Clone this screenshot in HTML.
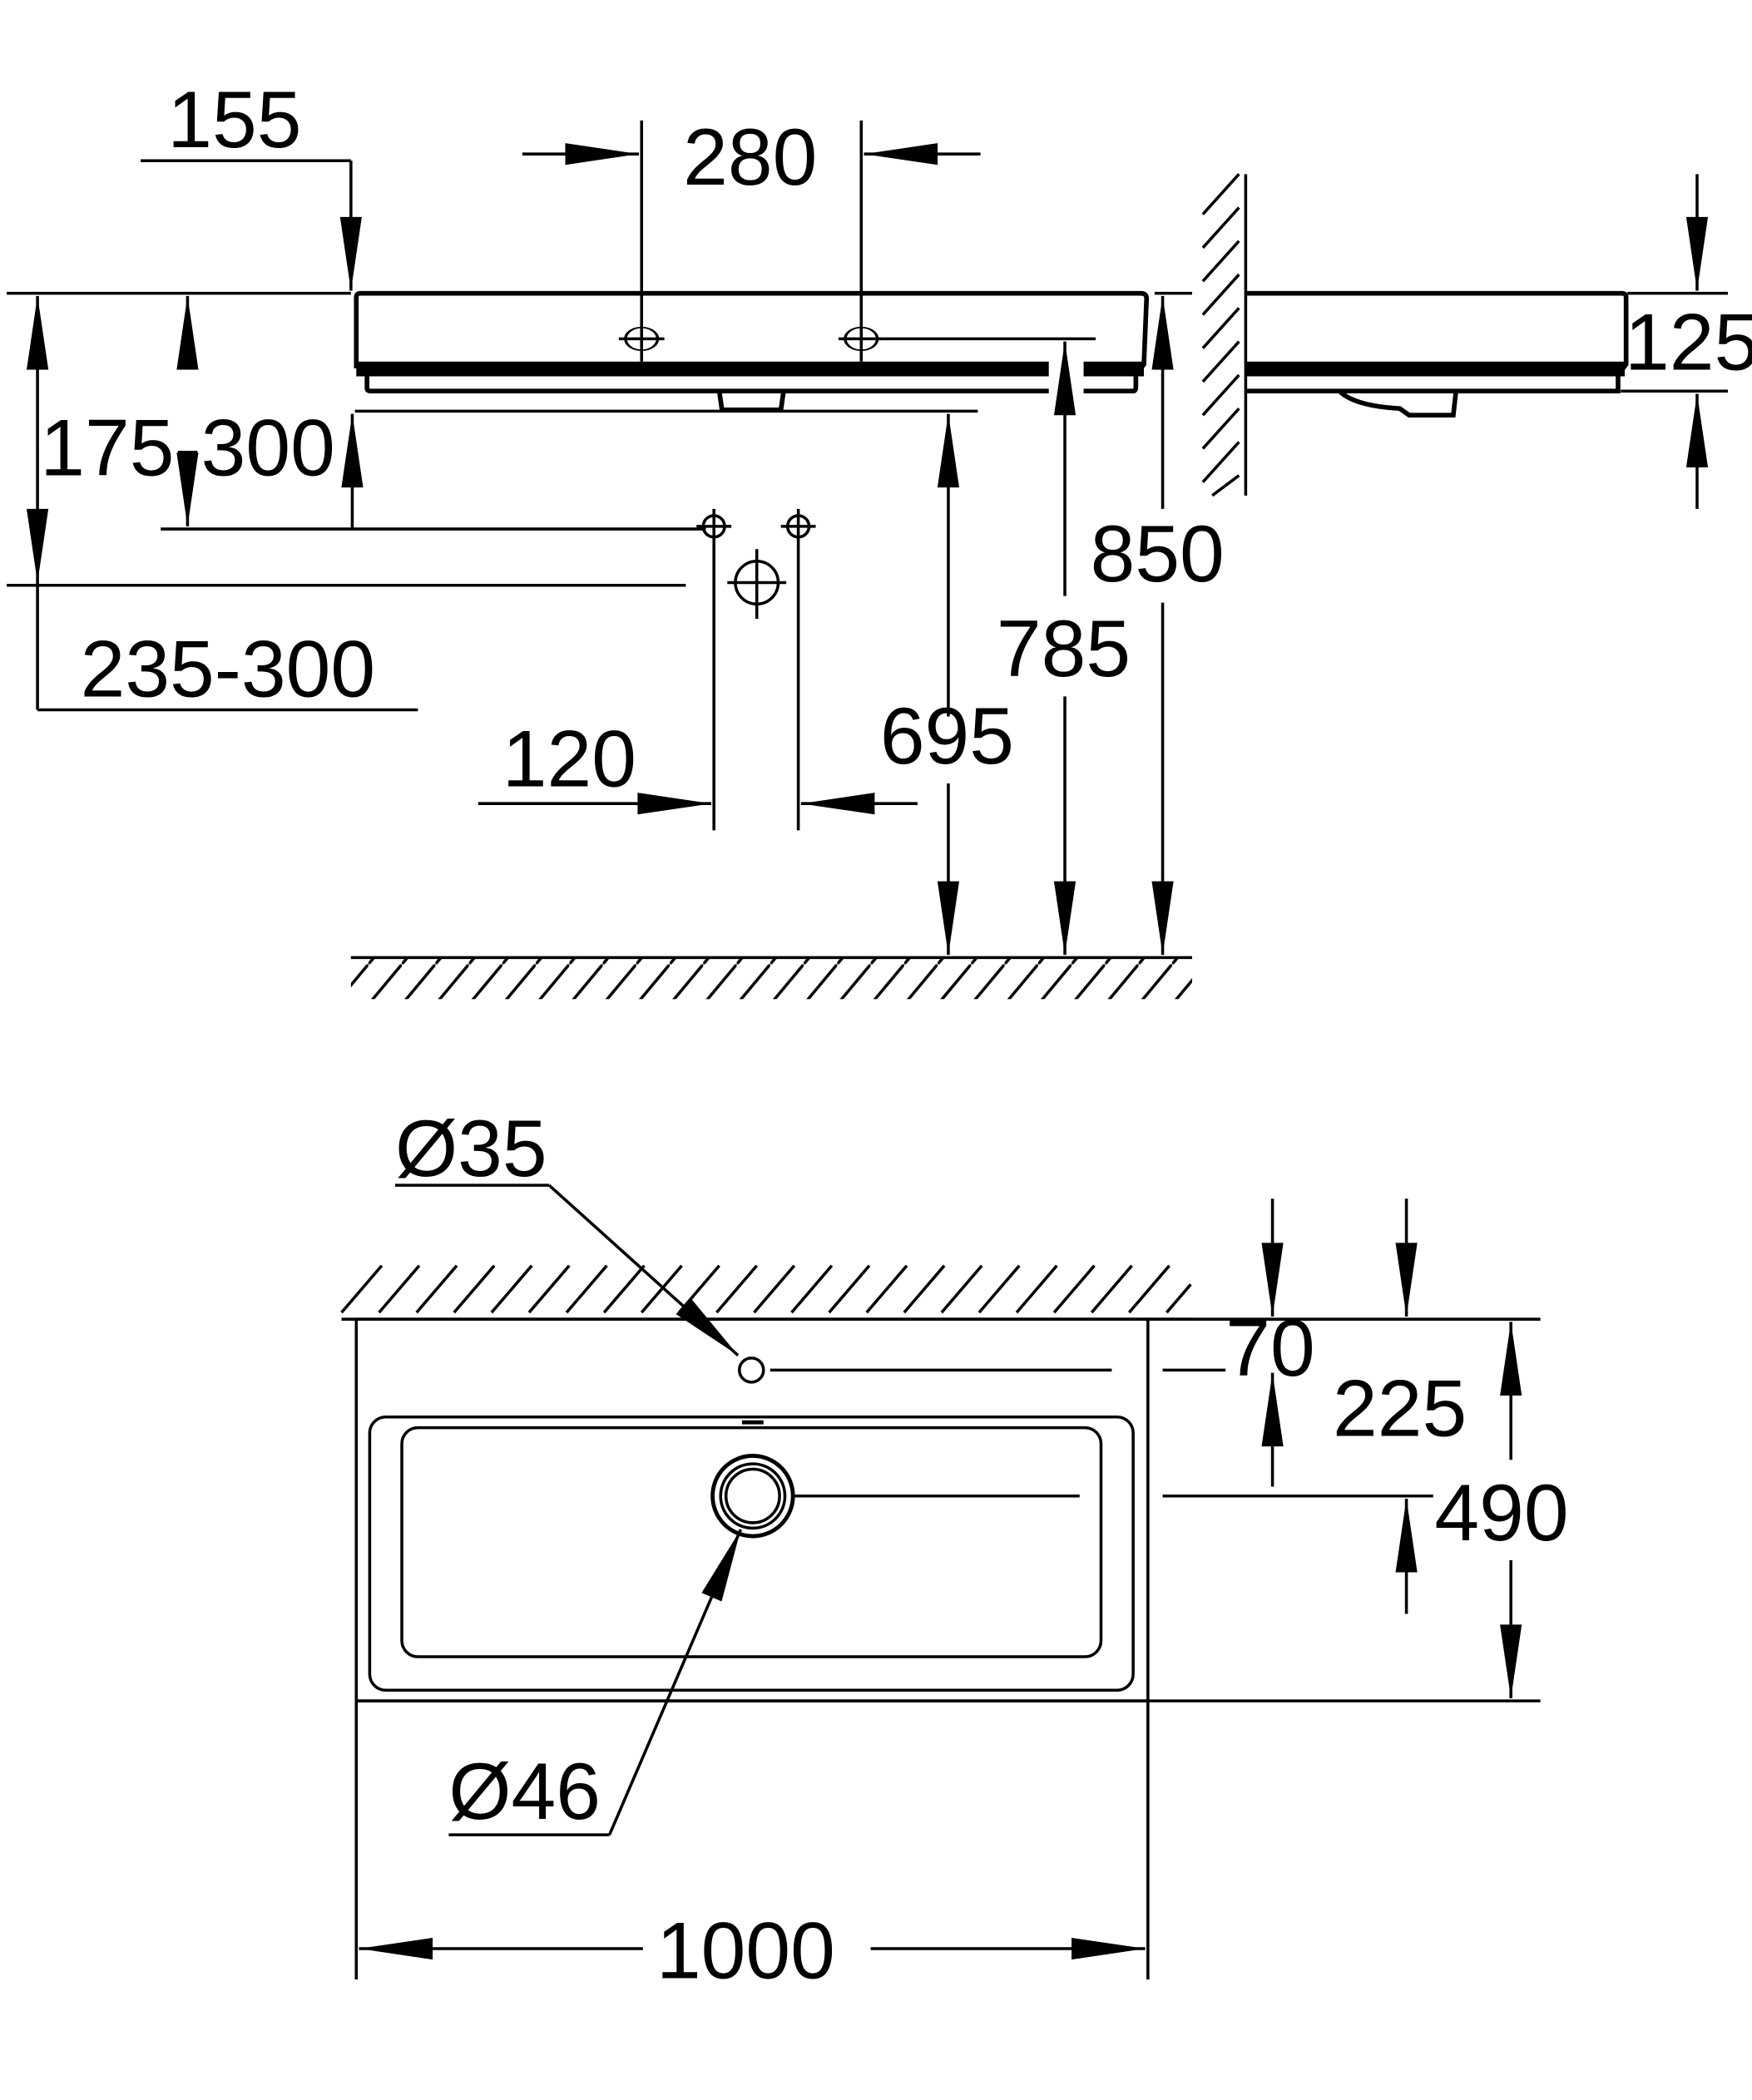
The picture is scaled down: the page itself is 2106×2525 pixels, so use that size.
<!DOCTYPE html>
<html><head><meta charset="utf-8"><style>
html,body{margin:0;padding:0;background:#fff}
svg{display:block}
text{font-family:"Liberation Sans",Arial,sans-serif;font-size:60px;fill:#000}
</style></head><body>
<svg width="2106" height="2525" viewBox="0 0 1308 1568" preserveAspectRatio="none" xmlns="http://www.w3.org/2000/svg">
<defs>
<marker id="a" markerUnits="userSpaceOnUse" markerWidth="60" markerHeight="20" viewBox="-46 -8 48 16" refX="0" refY="0" orient="auto">
<path d="M0,0 L-44,-6.5 L-44,6.5 Z" fill="#000"/>
</marker>
<pattern id="hf" width="25" height="30" patternUnits="userSpaceOnUse">
<line x1="0" y1="30" x2="25" y2="0" stroke="#000" stroke-width="2.2"/>
</pattern>
</defs>
<g stroke="#000" stroke-width="2.2" fill="none">
<!-- ===== TOP ELEVATION ===== -->
<line x1="5" y1="219" x2="262" y2="219"/>
<line x1="862" y1="219" x2="890" y2="219"/>
<g stroke-width="3.5">
<path d="M266,275 L266,222 Q266,219 269,219 L852,219 Q856,219 856,223 L854,272 L848,280"/>
<path d="M274,280 L274,290 Q274,292 277,292 L783,292"/>
<path d="M809,292 L846,292 Q848,292 848,289 L848,280"/>
<path d="M537,292 L539,306 L583,306 L585,292"/>
</g>
<rect x="266" y="270" width="517" height="11" fill="#000" stroke="none"/>
<rect x="809" y="270" width="45" height="11" fill="#000" stroke="none"/>
<ellipse cx="479" cy="253" rx="12" ry="17" transform="matrix(1 0 0 0.5 0 126.5)"/>
<ellipse cx="643" cy="253" rx="12" ry="17" transform="matrix(1 0 0 0.5 0 126.5)"/>
<line x1="462" y1="253" x2="496" y2="253"/>
<line x1="626" y1="253" x2="660" y2="253"/>
<line x1="660" y1="253" x2="818" y2="253"/>
<!-- 155 -->
<line x1="105" y1="120" x2="262" y2="120"/>
<line x1="262" y1="120" x2="262" y2="217" marker-end="url(#a)"/>
<!-- 280 -->
<line x1="479" y1="90" x2="479" y2="270"/>
<line x1="643" y1="90" x2="643" y2="270"/>
<line x1="390" y1="115" x2="477" y2="115" marker-end="url(#a)"/>
<line x1="732" y1="115" x2="645" y2="115" marker-end="url(#a)"/>
<!-- 175-300 -->
<line x1="140" y1="265" x2="140" y2="221" marker-end="url(#a)"/>
<line x1="263" y1="395" x2="263" y2="309" marker-end="url(#a)"/>
<line x1="265" y1="307" x2="730" y2="307"/>
<line x1="120" y1="395" x2="527" y2="395"/>
<line x1="140" y1="345" x2="140" y2="393" marker-end="url(#a)"/>
<!-- 235-300 -->
<line x1="28" y1="330" x2="28" y2="221" marker-end="url(#a)"/>
<line x1="28" y1="330" x2="28" y2="435" marker-end="url(#a)"/>
<line x1="28" y1="435" x2="28" y2="530"/>
<line x1="5" y1="437" x2="512" y2="437"/>
<line x1="28" y1="530" x2="312" y2="530"/>
<!-- fittings -->
<circle cx="533" cy="393" r="8"/><line x1="520" y1="393" x2="546" y2="393"/>
<circle cx="596" cy="393" r="8"/><line x1="583" y1="393" x2="609" y2="393"/>
<circle cx="565" cy="435" r="16"/><line x1="543" y1="435" x2="587" y2="435"/><line x1="565" y1="410" x2="565" y2="462"/>
<line x1="533" y1="380" x2="533" y2="620"/>
<line x1="596" y1="380" x2="596" y2="620"/>
<!-- 120 -->
<line x1="357" y1="600" x2="531" y2="600" marker-end="url(#a)"/>
<line x1="685" y1="600" x2="598" y2="600" marker-end="url(#a)"/>
<!-- 695 -->
<line x1="708" y1="535" x2="708" y2="309" marker-end="url(#a)"/>
<line x1="708" y1="585" x2="708" y2="713" marker-end="url(#a)"/>
<!-- 785 -->
<line x1="795" y1="445" x2="795" y2="255" marker-end="url(#a)"/>
<line x1="795" y1="520" x2="795" y2="713" marker-end="url(#a)"/>
<!-- 850 -->
<line x1="868" y1="380" x2="868" y2="221" marker-end="url(#a)"/>
<line x1="868" y1="450" x2="868" y2="713" marker-end="url(#a)"/>
<!-- floor -->
<line x1="262" y1="715" x2="890" y2="715"/>
<rect x="262" y="716" width="628" height="30" fill="url(#hf)" stroke="none"/>
<!-- right wall -->
<line x1="930" y1="130" x2="930" y2="370"/>
<g>
<line x1="898" y1="160" x2="925" y2="130"/><line x1="898" y1="185" x2="925" y2="155"/><line x1="898" y1="210" x2="925" y2="180"/><line x1="898" y1="235" x2="925" y2="205"/><line x1="898" y1="260" x2="925" y2="230"/><line x1="898" y1="285" x2="925" y2="255"/><line x1="898" y1="310" x2="925" y2="280"/><line x1="898" y1="335" x2="925" y2="305"/><line x1="898" y1="360" x2="925" y2="330"/><line x1="905" y1="370" x2="925" y2="355"/>
</g>
<!-- right profile -->
<g stroke-width="3.5">
<path d="M930,219 L1211,219 Q1214,219 1214,222 L1214,272 L1208,280 L1208,292 L930,292"/>
<path d="M1000,292 C1008,300 1025,304 1045,305 L1052,310 L1085,310 L1087,292"/>
</g>
<rect x="930" y="270" width="283" height="11" fill="#000" stroke="none"/>
<!-- 125 -->
<line x1="1267" y1="130" x2="1267" y2="217" marker-end="url(#a)"/>
<line x1="1267" y1="380" x2="1267" y2="294" marker-end="url(#a)"/>
<line x1="1215" y1="219" x2="1290" y2="219"/>
<line x1="1210" y1="292" x2="1290" y2="292"/>

<!-- ===== PLAN ===== -->
<line x1="255" y1="985" x2="890" y2="985"/>
<g>
<line x1="255" y1="980" x2="285" y2="945"/><line x1="283" y1="980" x2="313" y2="945"/><line x1="311" y1="980" x2="341" y2="945"/><line x1="339" y1="980" x2="369" y2="945"/><line x1="367" y1="980" x2="397" y2="945"/><line x1="395" y1="980" x2="425" y2="945"/><line x1="423" y1="980" x2="453" y2="945"/><line x1="451" y1="980" x2="481" y2="945"/><line x1="479" y1="980" x2="509" y2="945"/><line x1="507" y1="980" x2="537" y2="945"/><line x1="535" y1="980" x2="565" y2="945"/><line x1="563" y1="980" x2="593" y2="945"/><line x1="591" y1="980" x2="621" y2="945"/><line x1="619" y1="980" x2="649" y2="945"/><line x1="647" y1="980" x2="677" y2="945"/><line x1="675" y1="980" x2="705" y2="945"/><line x1="703" y1="980" x2="733" y2="945"/><line x1="731" y1="980" x2="761" y2="945"/><line x1="759" y1="980" x2="789" y2="945"/><line x1="787" y1="980" x2="817" y2="945"/><line x1="815" y1="980" x2="845" y2="945"/><line x1="843" y1="980" x2="873" y2="945"/><line x1="871" y1="980" x2="889" y2="959"/>
</g>
<rect x="266" y="985" width="591" height="285"/>
<line x1="266" y1="1270" x2="266" y2="1478"/>
<line x1="857" y1="1270" x2="857" y2="1478"/>
<rect x="276" y="1058" width="570" height="204" rx="12"/>
<rect x="300" y="1066" width="522" height="171" rx="12"/>
<line x1="554" y1="1062" x2="570" y2="1062" stroke-width="3"/>
<circle cx="561" cy="1023" r="9"/>
<line x1="575" y1="1023" x2="830" y2="1023"/>
<line x1="295" y1="885" x2="410" y2="885"/>
<line x1="410" y1="885" x2="551" y2="1012" marker-end="url(#a)"/>
<circle cx="562" cy="1117" r="30" stroke-width="3"/>
<circle cx="562" cy="1117" r="24"/>
<circle cx="562" cy="1117" r="20"/>
<line x1="593" y1="1117" x2="806" y2="1117"/>
<line x1="335" y1="1370" x2="455" y2="1370"/>
<line x1="455" y1="1370" x2="553" y2="1142" marker-end="url(#a)"/>
<!-- 70 -->
<line x1="950" y1="895" x2="950" y2="983" marker-end="url(#a)"/>
<line x1="950" y1="1110" x2="950" y2="1025" marker-end="url(#a)"/>
<line x1="857" y1="985" x2="1150" y2="985"/>
<line x1="868" y1="1023" x2="915" y2="1023"/>
<!-- 225 -->
<line x1="1050" y1="895" x2="1050" y2="983" marker-end="url(#a)"/>
<line x1="1050" y1="1205" x2="1050" y2="1119" marker-end="url(#a)"/>
<line x1="868" y1="1117" x2="1070" y2="1117"/>
<!-- 490 -->
<line x1="1128" y1="1090" x2="1128" y2="987" marker-end="url(#a)"/>
<line x1="1128" y1="1165" x2="1128" y2="1268" marker-end="url(#a)"/>
<line x1="266" y1="1270" x2="1150" y2="1270"/>
<!-- 1000 -->
<line x1="480" y1="1455" x2="268" y2="1455" marker-end="url(#a)"/>
<line x1="650" y1="1455" x2="855" y2="1455" marker-end="url(#a)"/>
</g>
<g>
<text x="125" y="110">155</text>
<text x="510" y="138">280</text>
<text x="30" y="355">175-300</text>
<text x="60" y="520">235-300</text>
<text x="375" y="587">120</text>
<text x="657" y="570">695</text>
<text x="744" y="505">785</text>
<text x="814" y="434">850</text>
<text x="1213" y="276">125</text>
<text x="295" y="878">Ø35</text>
<text x="335" y="1358">Ø46</text>
<text x="915" y="1027">70</text>
<text x="995" y="1072">225</text>
<text x="1071" y="1150">490</text>
<text x="490" y="1477">1000</text>
</g>
</svg>
</body></html>
